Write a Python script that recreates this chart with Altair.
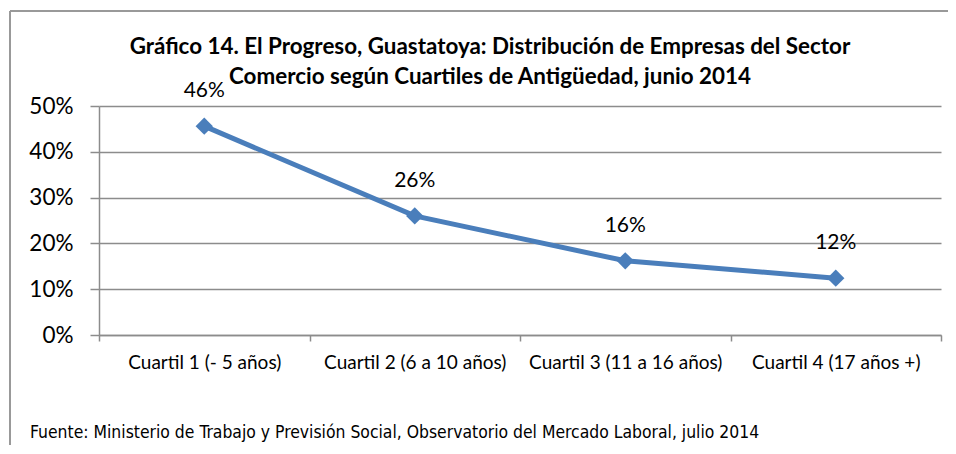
import altair as alt
import pandas as pd

categories = ["Cuartil 1 (- 5 años)", "Cuartil 2 (6 a 10 años)", "Cuartil 3 (11 a 16 años)", "Cuartil 4 (17 años +)"]
values = [0.456, 0.26, 0.162, 0.124]
labels = ["46%", "26%", "16%", "12%"]
title_lines = ["Gráfico 14. El Progreso, Guastatoya: Distribución de Empresas del Sector",
               "Comercio según Cuartiles de Antigüedad, junio 2014"]
footer = "Fuente: Ministerio de Trabajo y Previsión Social, Observatorio del Mercado Laboral, julio 2014"

df = pd.DataFrame({"cat": categories, "val": values, "lab": labels})

W, H = 842, 229
BLUE = "#4a7ebb"
GRID = "#8c8c8c"
FONT = "Lato"

x_enc = alt.X("cat:N", sort=categories, title=None,
              scale=alt.Scale(type="band", paddingInner=0, paddingOuter=0),
              axis=alt.Axis(labelAngle=0, labelFont=FONT, labelFontSize=19, labelColor="#000",
                            labelLimit=400,
                            tickBand="extent", ticks=True, tickSize=6, tickColor=GRID, tickWidth=1.5,
                            domainColor=GRID, domainWidth=1.5, labelPadding=12, grid=False))
y_enc = alt.Y("val:Q", title=None,
              scale=alt.Scale(domain=[0, 0.5], nice=False),
              axis=alt.Axis(values=[0, 0.1, 0.2, 0.3, 0.4, 0.5], format=".0%",
                            labelFont=FONT, labelFontSize=22.5, labelColor="#000",
                            tickSize=9, tickColor=GRID, tickWidth=1.5, labelPadding=17,
                            domainColor=GRID, domainWidth=1.5,
                            grid=True, gridColor=GRID, gridWidth=1.5, gridOpacity=1))

base = alt.Chart(df)
line = base.mark_line(color=BLUE, strokeWidth=5).encode(x=x_enc, y=y_enc)
pts = base.mark_point(shape="diamond", filled=True, color=BLUE, size=300, opacity=1).encode(x=alt.X("cat:N", sort=categories), y="val:Q")
txt = base.mark_text(font=FONT, fontSize=21, color="#000", dy=-35, baseline="middle").encode(
    x=alt.X("cat:N", sort=categories), y="val:Q", text="lab:N")

frame_left = alt.Chart(df).mark_rule(color="#999", strokeWidth=2, clip=False).encode(
    x=alt.value(-89), y=alt.value(-95), y2=alt.value(H + 200))
frame_top = alt.Chart(df).mark_rule(color="#999", strokeWidth=2, clip=False).encode(
    x=alt.value(-89), x2=alt.value(W + 100), y=alt.value(-95))

ttl1 = alt.Chart(pd.DataFrame({"t": [title_lines[0]]})).mark_text(
    font=FONT, fontSize=22.4, fontWeight="bold", color="#000", align="center", baseline="middle").encode(
    x=alt.value(391), y=alt.value(-59), text="t:N")
ttl2 = alt.Chart(pd.DataFrame({"t": [title_lines[1]]})).mark_text(
    font=FONT, fontSize=22.4, fontWeight="bold", color="#000", align="center", baseline="middle").encode(
    x=alt.value(391), y=alt.value(-29), text="t:N")

foot = alt.Chart(pd.DataFrame({"t": [footer]})).mark_text(
    font="DejaVu Sans Condensed", fontSize=17.4, align="left", baseline="middle", color="#000").encode(
    x=alt.value(-69), y=alt.value(327), text="t:N")

chart = alt.layer(frame_left, frame_top, line, pts, txt, ttl1, ttl2, foot).properties(
    width=W, height=H,
    autosize=alt.AutoSizeParams(type="none"),
    padding={"left": 91, "top": 98, "right": 7, "bottom": 110},
).configure_view(stroke=None)

chart.save("out.html", embed_options={"renderer": "svg", "actions": False})
